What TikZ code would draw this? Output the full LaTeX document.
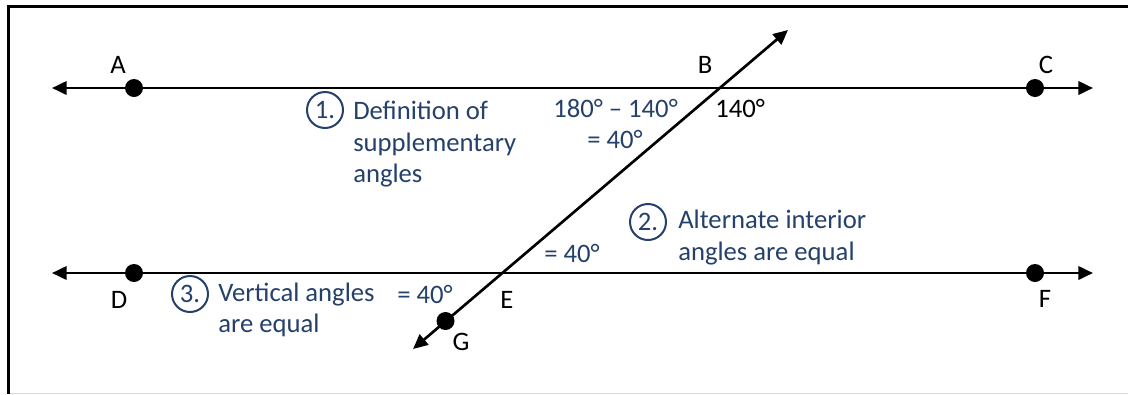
\documentclass[tikz,border=0pt]{standalone}
\usepackage{fontspec}
\setmainfont{Carlito}
\usetikzlibrary{arrows.meta}
\definecolor{txtblue}{RGB}{36,64,107}
\definecolor{framegray}{RGB}{217,217,217}
\begin{document}
\begin{tikzpicture}[x=0.75pt,y=-0.75pt,
  lbl/.style={inner sep=0pt, anchor=base, font=\fontsize{20}{24}\selectfont},
  note/.style={inner sep=0pt, anchor=base west, text=txtblue, font=\fontsize{20}{24}\selectfont},
  numc/.style={circle, draw=txtblue, line width=1.5pt, text=txtblue, inner sep=0pt, minimum size=27pt, font=\fontsize{20}{24}\selectfont},
  dot/.style={circle, fill=black, inner sep=0pt, minimum size=13.5pt},
  geo/.style={line width=2pt, {Triangle[length=11pt,width=10pt]}-{Triangle[length=11pt,width=10pt]}},
]
\useasboundingbox (0,0) rectangle (1128,394);
% frame
\draw[line width=2.25pt, line join=miter] (8.5,394) -- (8.5,6.5) -- (1128,6.5);
\draw[framegray, line width=0.75pt] (10,393.5) -- (1128,393.5);

% coordinates
\coordinate (tl) at (52,88);
\coordinate (tr) at (1093,88);
\coordinate (bl) at (52,273);
\coordinate (br) at (1093,273);
\coordinate (B) at (720,88);
\coordinate (E) at (502,273);
\coordinate (tup) at (788,30);
\coordinate (tdn) at (413,349);

% lines
\draw[geo] (tl) -- (tr);
\draw[geo] (bl) -- (br);
\draw[geo] (tdn) -- (tup);

% dots
\node[dot] (A) at (134,88) {};
\node[dot] (C) at (1035,88) {};
\node[dot] (D) at (134,273) {};
\node[dot] (F) at (1035,273) {};
\node[dot] (G) at (445.5,321) {};

% point labels
\node[lbl] (lA) at (118,73) {A};
\node[lbl] (lB) at (705,73) {B};
\node[lbl] (lC) at (1046,73) {C};
\node[lbl] (lD) at (119,308) {D};
\node[lbl] (lE) at (507,308) {E};
\node[lbl] (lF) at (1045,307) {F};
\node[lbl] (lG) at (461,350) {G};

% angle values
\node[note] (s1) at (553,117) {180° – 140°};
\node[note] (s2) at (587,148) {= 40°};
\node[note, text=black] (a140) at (715,117) {140°};
\node[note] (alt40) at (544,262) {= 40°};
\node[note] (vert40) at (397,303) {= 40°};

% reasons
\node[numc] (c1) at (325,110) {1.};
\node[note] (r1a) at (353,119) {Definition of};
\node[note] (r1b) at (353,151) {supplementary};
\node[note] (r1c) at (353,182) {angles};

\node[numc] (c2) at (648,222) {2.};
\node[note] (r2a) at (678,228) {Alternate interior};
\node[note] (r2b) at (678,260) {angles are equal};

\node[numc] (c3) at (190,294) {3.};
\node[note] (r3a) at (218,301) {Vertical angles};
\node[note] (r3b) at (218,332) {are equal};
\end{tikzpicture}
\end{document}
